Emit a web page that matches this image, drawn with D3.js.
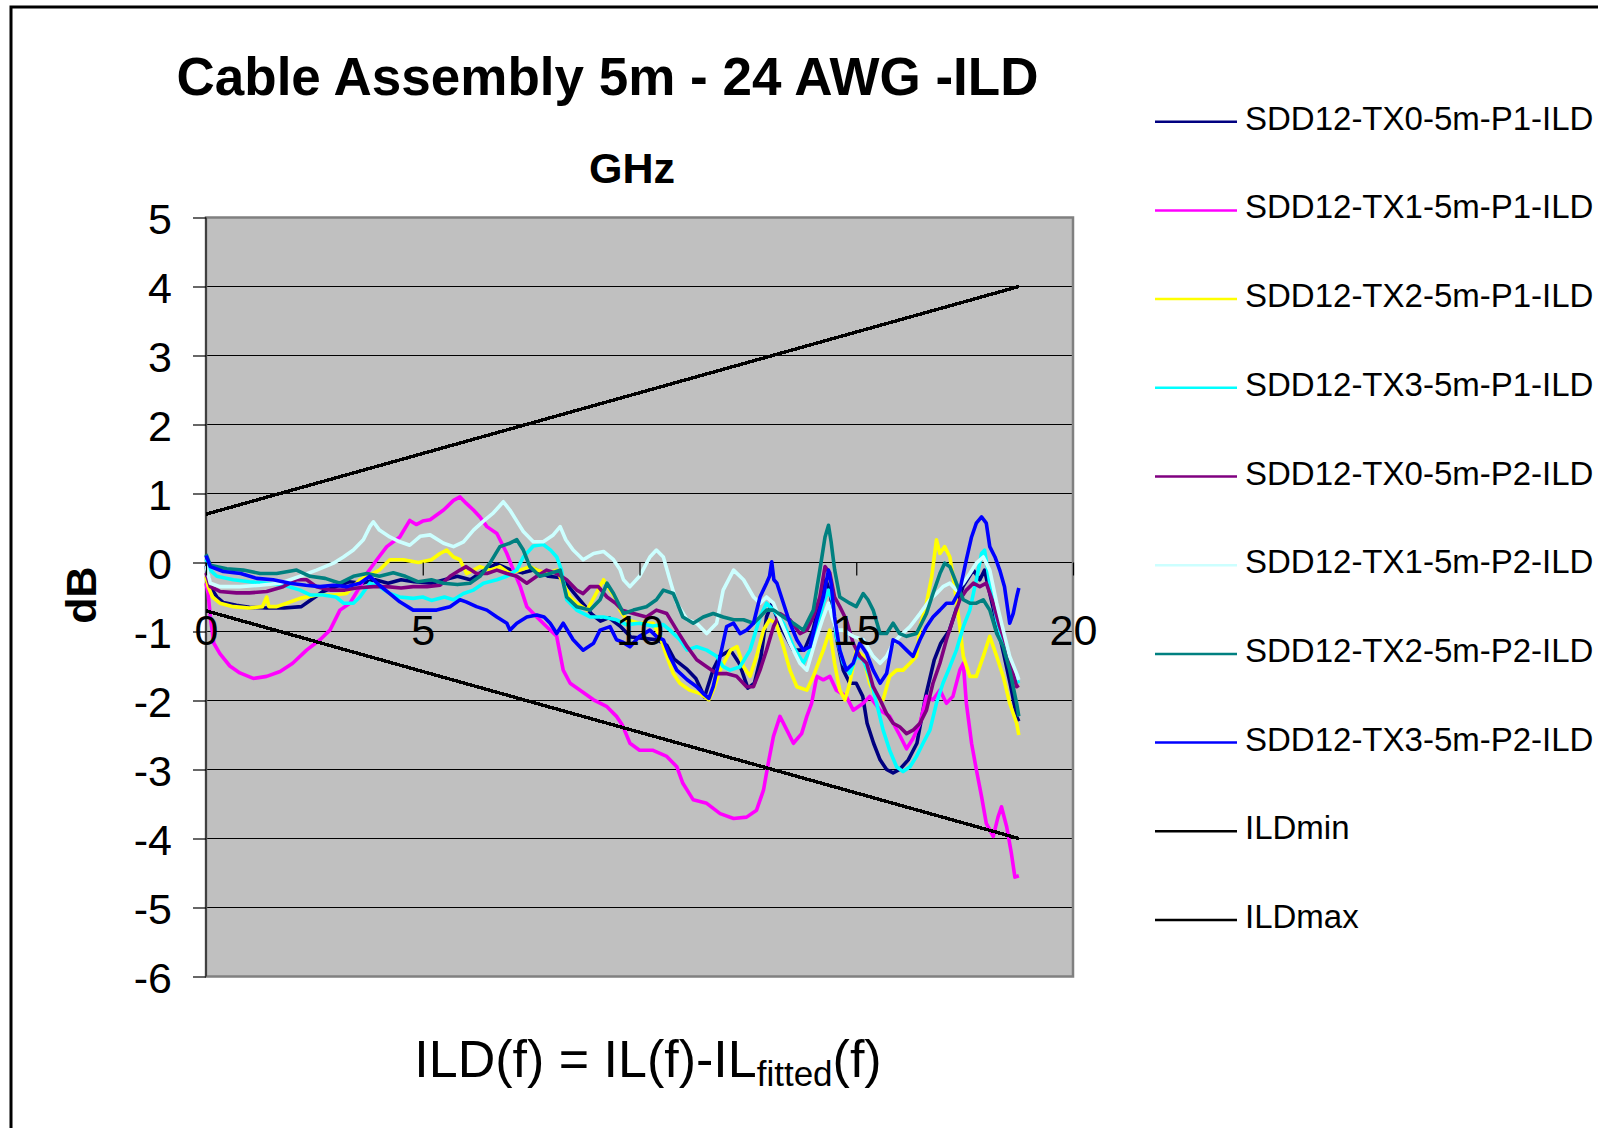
<!DOCTYPE html>
<html>
<head>
<meta charset="utf-8">
<script src="https://cdn.jsdelivr.net/npm/d3@7/dist/d3.min.js"></script>
<style>
  html, body { margin: 0; padding: 0; background: #fff; }
  svg { display: block; font-family: "Liberation Sans", Arial, sans-serif; }
</style>
</head>
<body>
<svg id="chart" width="1598" height="1128"></svg>
<script>
// ---- Data: insertion-loss deviation per lane, [GHz, dB] ----
const tx0p1 = [[0,-0.05],[0.1,-0.35],[0.25,-0.5],[0.4,-0.58],[0.7,-0.62],[1.0,-0.65],[1.4,-0.66],[1.8,-0.66],[2.2,-0.64],[2.4,-0.55],[2.7,-0.42],[3.0,-0.35],[3.3,-0.28],[3.6,-0.3],[3.9,-0.25],[4.2,-0.3],[4.5,-0.25],[4.8,-0.28],[5.2,-0.3],[5.5,-0.25],[5.8,-0.2],[6.1,-0.25],[6.4,-0.12],[6.7,-0.02],[7.0,-0.1],[7.3,-0.15],[7.6,-0.1],[7.9,-0.2],[8.2,-0.22],[8.5,-0.45],[8.7,-0.6],[8.9,-0.75],[9.1,-0.85],[9.3,-0.8],[9.55,-0.92],[9.8,-1.08],[10.1,-1.1],[10.4,-1.12],[10.63,-1.2],[10.8,-1.4],[11.1,-1.55],[11.3,-1.68],[11.5,-1.95],[11.7,-1.55],[11.85,-1.36],[12.1,-1.27],[12.3,-1.46],[12.5,-1.82],[12.65,-1.75],[12.8,-1.37],[12.93,-0.79],[13.05,-0.6],[13.17,-0.8],[13.3,-0.98],[13.55,-1.27],[13.8,-1.27],[14.0,-0.98],[14.15,-0.6],[14.3,-0.25],[14.4,-0.45],[14.55,-1.1],[14.7,-1.56],[14.85,-1.75],[15.0,-1.75],[15.15,-1.94],[15.25,-2.33],[15.4,-2.62],[15.55,-2.86],[15.7,-3.0],[15.85,-3.05],[16.0,-3.0],[16.2,-2.86],[16.4,-2.62],[16.6,-1.94],[16.8,-1.41],[16.95,-1.17],[17.15,-0.98],[17.3,-0.69],[17.46,-0.35],[17.7,-0.11],[17.85,-0.25],[17.96,-0.11],[18.1,-0.5],[18.24,-0.88],[18.4,-1.32],[18.55,-1.75],[18.7,-2.23],[18.75,-2.3]];

const tx1p1 = [[0,-0.3],[0.05,-0.45],[0.1,-0.79],[0.18,-1.17],[0.32,-1.32],[0.55,-1.5],[0.78,-1.6],[1.09,-1.68],[1.4,-1.65],[1.71,-1.58],[2.0,-1.46],[2.32,-1.27],[2.63,-1.12],[2.86,-0.98],[3.09,-0.69],[3.32,-0.59],[3.55,-0.35],[3.71,-0.16],[3.94,0.04],[4.17,0.23],[4.47,0.37],[4.7,0.61],[4.85,0.55],[5.0,0.6],[5.17,0.62],[5.48,0.76],[5.71,0.9],[5.86,0.95],[6.0,0.86],[6.17,0.76],[6.32,0.66],[6.48,0.52],[6.71,0.42],[6.94,0.13],[7.09,-0.11],[7.25,-0.35],[7.4,-0.64],[7.63,-0.79],[7.86,-0.93],[8.09,-1.07],[8.24,-1.56],[8.4,-1.75],[8.63,-1.85],[8.94,-1.99],[9.25,-2.09],[9.47,-2.23],[9.6,-2.35],[9.78,-2.62],[10.0,-2.72],[10.3,-2.72],[10.63,-2.81],[10.86,-2.96],[11.0,-3.2],[11.24,-3.44],[11.55,-3.49],[11.86,-3.64],[12.17,-3.71],[12.47,-3.69],[12.7,-3.59],[12.86,-3.3],[12.97,-2.91],[13.09,-2.52],[13.24,-2.23],[13.4,-2.43],[13.55,-2.62],[13.74,-2.48],[13.86,-2.23],[13.97,-2.04],[14.09,-1.65],[14.24,-1.7],[14.39,-1.65],[14.54,-1.85],[14.77,-1.94],[14.93,-2.14],[15.16,-2.04],[15.31,-1.94],[15.55,-2.14],[15.77,-2.23],[16.0,-2.5],[16.16,-2.7],[16.31,-2.55],[16.47,-2.33],[16.62,-1.94],[16.77,-1.99],[16.93,-1.85],[17.08,-2.04],[17.23,-1.94],[17.39,-1.56],[17.47,-1.46],[17.54,-2.04],[17.66,-2.62],[17.77,-3.0],[17.89,-3.39],[18.0,-3.78],[18.16,-3.97],[18.27,-3.69],[18.35,-3.54],[18.47,-3.83],[18.58,-4.22],[18.66,-4.56],[18.75,-4.54]];

const tx2p1 = [[0,-0.2],[0.05,-0.35],[0.15,-0.5],[0.32,-0.59],[0.63,-0.64],[1.0,-0.66],[1.3,-0.64],[1.4,-0.5],[1.45,-0.64],[1.63,-0.64],[1.86,-0.59],[2.17,-0.52],[2.55,-0.47],[2.94,-0.47],[3.24,-0.45],[3.55,-0.25],[3.71,-0.2],[4.0,-0.11],[4.24,0.04],[4.55,0.04],[4.9,0.0],[5.2,0.04],[5.4,0.13],[5.55,0.18],[5.71,0.08],[5.86,0.04],[6.01,-0.16],[6.17,-0.11],[6.32,-0.06],[6.55,-0.11],[6.78,-0.06],[7.01,-0.16],[7.25,-0.11],[7.47,-0.06],[7.65,-0.11],[7.86,-0.16],[8.09,-0.11],[8.24,-0.3],[8.4,-0.5],[8.55,-0.59],[8.79,-0.69],[9.0,-0.45],[9.17,-0.25],[9.32,-0.4],[9.47,-0.54],[9.55,-0.69],[9.7,-0.83],[10.0,-0.88],[10.32,-0.88],[10.47,-1.07],[10.63,-1.36],[10.78,-1.61],[10.93,-1.75],[11.16,-1.85],[11.4,-1.9],[11.6,-1.99],[11.7,-1.85],[11.86,-1.56],[12.1,-1.27],[12.25,-1.22],[12.4,-1.51],[12.55,-1.65],[12.7,-1.36],[12.86,-0.98],[13.0,-0.83],[13.15,-0.88],[13.32,-1.22],[13.47,-1.56],[13.63,-1.8],[13.86,-1.85],[14.01,-1.65],[14.24,-1.27],[14.39,-0.98],[14.5,-1.46],[14.62,-1.85],[14.74,-1.99],[14.85,-1.75],[15.0,-1.27],[15.16,-1.36],[15.31,-1.75],[15.47,-1.99],[15.62,-1.99],[15.77,-1.65],[15.93,-1.56],[16.08,-1.56],[16.24,-1.46],[16.39,-1.36],[16.47,-0.93],[16.62,-0.59],[16.74,-0.21],[16.85,0.33],[16.93,0.13],[17.04,0.23],[17.16,0.08],[17.27,-0.35],[17.39,-0.93],[17.47,-1.36],[17.62,-1.65],[17.77,-1.65],[17.93,-1.36],[18.08,-1.07],[18.24,-1.36],[18.39,-1.65],[18.54,-2.04],[18.7,-2.33],[18.75,-2.5]];

const tx3p1 = [[0,0.05],[0.1,-0.11],[0.25,-0.2],[0.63,-0.25],[1.0,-0.28],[1.4,-0.3],[1.8,-0.33],[2.17,-0.4],[2.4,-0.47],[2.7,-0.47],[3.0,-0.5],[3.17,-0.59],[3.4,-0.59],[3.55,-0.5],[3.78,-0.3],[4.0,-0.35],[4.24,-0.45],[4.47,-0.5],[4.78,-0.52],[5.0,-0.5],[5.2,-0.55],[5.5,-0.5],[5.71,-0.54],[5.94,-0.45],[6.17,-0.4],[6.4,-0.3],[6.71,-0.25],[6.94,-0.2],[7.17,-0.11],[7.32,0.08],[7.55,0.24],[7.78,0.26],[7.95,0.18],[8.09,0.08],[8.2,-0.11],[8.32,-0.54],[8.55,-0.69],[8.86,-0.79],[9.17,-0.79],[9.47,-0.83],[9.7,-0.9],[10.0,-0.88],[10.3,-0.92],[10.55,-0.9],[10.7,-0.98],[10.93,-1.12],[11.1,-1.27],[11.32,-1.22],[11.55,-1.27],[11.78,-1.36],[11.93,-1.51],[12.09,-1.56],[12.32,-1.51],[12.55,-1.27],[12.78,-0.79],[12.93,-0.59],[13.09,-0.69],[13.32,-0.88],[13.55,-1.22],[13.78,-1.46],[14.01,-1.17],[14.24,-0.59],[14.36,-0.4],[14.45,-0.55],[14.54,-1.07],[14.7,-1.46],[14.85,-1.61],[15.0,-1.36],[15.16,-1.41],[15.31,-1.65],[15.47,-2.04],[15.62,-2.43],[15.77,-2.72],[15.93,-2.96],[16.08,-3.03],[16.24,-2.96],[16.39,-2.81],[16.54,-2.62],[16.7,-2.43],[16.85,-2.04],[17.0,-1.75],[17.16,-1.51],[17.31,-1.27],[17.47,-0.93],[17.62,-0.69],[17.77,-0.25],[17.89,0.13],[17.96,0.18],[18.08,-0.3],[18.24,-0.83],[18.39,-1.17],[18.54,-1.46],[18.7,-1.7],[18.75,-1.75]];

const tx0p2 = [[0,-0.15],[0.1,-0.35],[0.32,-0.42],[0.7,-0.44],[1.0,-0.44],[1.4,-0.42],[1.78,-0.35],[2.09,-0.25],[2.32,-0.25],[2.55,-0.35],[2.86,-0.4],[3.2,-0.4],[3.47,-0.37],[3.86,-0.35],[4.17,-0.35],[4.5,-0.37],[4.78,-0.35],[5.1,-0.35],[5.4,-0.33],[5.63,-0.2],[5.86,-0.11],[6.0,-0.06],[6.24,-0.16],[6.48,-0.16],[6.71,-0.11],[6.94,-0.16],[7.17,-0.2],[7.4,-0.3],[7.63,-0.2],[7.86,-0.11],[8.09,-0.16],[8.32,-0.25],[8.55,-0.4],[8.7,-0.45],[8.86,-0.35],[9.05,-0.35],[9.25,-0.5],[9.45,-0.59],[9.6,-0.69],[9.86,-0.74],[10.16,-0.79],[10.39,-0.69],[10.63,-0.74],[10.86,-0.98],[11.1,-1.22],[11.32,-1.41],[11.55,-1.51],[11.78,-1.61],[12.0,-1.61],[12.24,-1.65],[12.47,-1.8],[12.63,-1.8],[12.78,-1.56],[12.93,-1.27],[13.09,-0.93],[13.24,-0.74],[13.47,-0.83],[13.7,-1.03],[13.86,-0.98],[14.01,-0.79],[14.16,-0.5],[14.28,-0.06],[14.39,-0.15],[14.5,-0.5],[14.62,-0.64],[14.77,-0.83],[14.93,-1.17],[15.08,-1.36],[15.24,-1.46],[15.39,-1.8],[15.55,-1.99],[15.7,-2.19],[15.85,-2.33],[16.0,-2.38],[16.16,-2.48],[16.31,-2.43],[16.47,-2.33],[16.62,-2.14],[16.77,-1.75],[16.93,-1.46],[17.08,-1.12],[17.23,-0.83],[17.39,-0.54],[17.54,-0.4],[17.7,-0.3],[17.85,-0.35],[18.0,-0.3],[18.16,-0.59],[18.31,-0.93],[18.47,-1.22],[18.58,-1.51],[18.7,-1.8],[18.75,-1.78]];

const tx1p2 = [[0,-0.05],[0.1,-0.3],[0.32,-0.35],[0.78,-0.35],[1.25,-0.33],[1.71,-0.3],[2.17,-0.2],[2.55,-0.11],[2.94,-0.01],[3.17,0.08],[3.4,0.18],[3.63,0.33],[3.78,0.52],[3.86,0.59],[4.0,0.47],[4.24,0.37],[4.47,0.3],[4.7,0.25],[4.94,0.38],[5.17,0.4],[5.48,0.28],[5.71,0.23],[5.94,0.3],[6.17,0.47],[6.4,0.6],[6.63,0.72],[6.86,0.88],[7.01,0.76],[7.17,0.6],[7.32,0.45],[7.55,0.3],[7.78,0.3],[8.01,0.4],[8.17,0.52],[8.3,0.33],[8.47,0.18],[8.7,0.04],[8.94,0.13],[9.17,0.16],[9.4,0.04],[9.55,-0.1],[9.63,-0.25],[9.78,-0.35],[10.0,-0.2],[10.24,0.08],[10.39,0.18],[10.55,0.08],[10.7,-0.25],[10.86,-0.59],[11.1,-0.83],[11.32,-0.88],[11.55,-1.03],[11.78,-0.88],[11.93,-0.4],[12.17,-0.11],[12.4,-0.25],[12.63,-0.5],[12.78,-0.59],[12.93,-0.5],[13.09,-0.59],[13.24,-0.83],[13.47,-1.17],[13.7,-1.46],[13.86,-1.56],[14.09,-1.07],[14.24,-0.79],[14.36,-0.59],[14.45,-0.8],[14.54,-0.98],[14.7,-0.98],[14.93,-1.07],[15.16,-1.12],[15.39,-1.36],[15.55,-1.46],[15.7,-1.36],[15.85,-1.17],[16.0,-1.07],[16.24,-0.93],[16.47,-0.74],[16.7,-0.54],[16.85,-0.45],[17.0,-0.35],[17.16,-0.3],[17.31,-0.4],[17.47,-0.3],[17.62,-0.16],[17.77,-0.01],[17.93,0.08],[18.08,-0.11],[18.24,-0.59],[18.39,-0.98],[18.54,-1.36],[18.7,-1.61],[18.75,-1.7]];

const tx2p2 = [[0,0.12],[0.1,-0.04],[0.48,-0.09],[0.86,-0.11],[1.25,-0.16],[1.63,-0.16],[2.09,-0.11],[2.4,-0.2],[2.75,-0.23],[3.09,-0.3],[3.4,-0.2],[3.71,-0.16],[4.0,-0.2],[4.32,-0.15],[4.6,-0.2],[4.9,-0.28],[5.2,-0.25],[5.48,-0.3],[5.8,-0.32],[6.09,-0.3],[6.32,-0.2],[6.55,-0.01],[6.78,0.23],[7.01,0.28],[7.17,0.33],[7.32,0.18],[7.47,-0.06],[7.7,-0.2],[7.94,-0.16],[8.17,-0.11],[8.32,-0.5],[8.55,-0.64],[8.86,-0.69],[9.09,-0.54],[9.25,-0.3],[9.4,-0.45],[9.63,-0.74],[9.86,-0.69],[10.16,-0.64],[10.39,-0.54],[10.55,-0.4],[10.78,-0.45],[11.0,-0.79],[11.24,-0.88],[11.47,-0.79],[11.7,-0.74],[11.93,-0.79],[12.17,-0.83],[12.4,-0.83],[12.63,-0.88],[12.78,-0.79],[12.93,-0.69],[13.1,-0.69],[13.32,-0.79],[13.55,-0.88],[13.78,-0.98],[14.01,-0.69],[14.16,-0.11],[14.28,0.37],[14.36,0.54],[14.42,0.3],[14.5,-0.1],[14.62,-0.5],[14.85,-0.59],[15.0,-0.64],[15.16,-0.45],[15.27,-0.54],[15.39,-0.69],[15.55,-1.03],[15.7,-1.03],[15.85,-0.88],[16.0,-1.03],[16.16,-1.07],[16.39,-1.03],[16.62,-0.74],[16.77,-0.45],[16.93,-0.16],[17.04,-0.01],[17.16,-0.06],[17.31,-0.3],[17.47,-0.54],[17.62,-0.59],[17.77,-0.59],[17.93,-0.54],[18.08,-0.69],[18.24,-1.03],[18.39,-1.22],[18.54,-1.56],[18.7,-2.04],[18.75,-2.23]];

const tx3p2 = [[0,0.1],[0.1,-0.06],[0.4,-0.13],[0.8,-0.16],[1.17,-0.23],[1.55,-0.25],[1.94,-0.3],[2.3,-0.33],[2.63,-0.35],[2.94,-0.33],[3.24,-0.35],[3.55,-0.3],[3.78,-0.2],[4.0,-0.33],[4.24,-0.45],[4.47,-0.57],[4.78,-0.69],[5.0,-0.69],[5.32,-0.69],[5.63,-0.64],[5.86,-0.54],[6.0,-0.57],[6.24,-0.64],[6.48,-0.69],[6.71,-0.79],[6.94,-0.88],[7.01,-0.98],[7.17,-0.88],[7.4,-0.79],[7.63,-0.76],[7.8,-0.79],[7.94,-0.88],[8.09,-1.03],[8.24,-0.88],[8.47,-1.12],[8.7,-1.27],[8.94,-1.17],[9.09,-0.98],[9.32,-0.93],[9.47,-1.12],[9.6,-1.15],[9.78,-1.22],[10.0,-1.07],[10.24,-0.98],[10.39,-1.07],[10.55,-1.12],[10.7,-1.36],[10.86,-1.56],[11.1,-1.7],[11.32,-1.8],[11.47,-1.9],[11.6,-1.97],[11.7,-1.8],[11.86,-1.36],[12.01,-0.93],[12.17,-0.88],[12.32,-1.03],[12.47,-0.98],[12.63,-0.88],[12.78,-0.5],[12.93,-0.3],[13.0,-0.2],[13.05,0.01],[13.1,-0.25],[13.17,-0.3],[13.32,-0.59],[13.47,-0.88],[13.63,-1.12],[13.78,-1.27],[13.93,-1.22],[14.09,-0.83],[14.24,-0.5],[14.36,-0.11],[14.42,-0.3],[14.5,-0.79],[14.62,-1.27],[14.77,-1.56],[14.93,-1.46],[15.08,-1.17],[15.24,-1.32],[15.39,-1.56],[15.55,-1.75],[15.7,-1.61],[15.85,-1.12],[16.0,-1.17],[16.16,-1.27],[16.31,-1.36],[16.47,-1.12],[16.62,-0.93],[16.77,-0.79],[16.93,-0.69],[17.08,-0.59],[17.23,-0.59],[17.39,-0.4],[17.54,0.04],[17.66,0.37],[17.77,0.57],[17.89,0.66],[18.0,0.57],[18.08,0.23],[18.2,0.08],[18.31,-0.11],[18.42,-0.35],[18.54,-0.88],[18.62,-0.74],[18.7,-0.5],[18.75,-0.37]];

// Limit lines (end points, GHz and dB)
const ildFreq = [0, 18.75];
const ildMinVals = [-0.7, -4.0];
const ildMaxVals = [0.7, 4.0];

const seriesNames = [
  "SDD12-TX0-5m-P1-ILD", "SDD12-TX1-5m-P1-ILD", "SDD12-TX2-5m-P1-ILD", "SDD12-TX3-5m-P1-ILD",
  "SDD12-TX0-5m-P2-ILD", "SDD12-TX1-5m-P2-ILD", "SDD12-TX2-5m-P2-ILD", "SDD12-TX3-5m-P2-ILD",
  "ILDmin", "ILDmax"
];
const seriesData = [tx0p1, tx1p1, tx2p1, tx3p1, tx0p2, tx1p2, tx2p2, tx3p2,
  ildFreq.map((f, i) => [f, ildMinVals[i]]),
  ildFreq.map((f, i) => [f, ildMaxVals[i]])];
const seriesColors = ["#000080", "#ff00ff", "#ffff00", "#00ffff", "#800080",
  "#ccffff", "#008080", "#0000ff", "#000000", "#000000"];

const xTicks = [0, 5, 10, 15, 20];
const yTicks = [5, 4, 3, 2, 1, 0, -1, -2, -3, -4, -5, -6];

// ---- Layout ----
const W = 1598, H = 1128;
const plot = { left: 206, right: 1073, top: 217.5, bottom: 976.5 };
const FONT = '"Liberation Sans", Arial, sans-serif';

const svg = d3.select("#chart");
const x = d3.scaleLinear().domain([0, 20]).range([plot.left, plot.right]);
const y = d3.scaleLinear().domain([-6, 5]).range([plot.bottom, plot.top]);

svg.append("rect").attr("width", W).attr("height", H).attr("fill", "#fff");

// outer chart frame
svg.append("rect")
  .attr("x", 11).attr("y", 7).attr("width", W).attr("height", H)
  .attr("fill", "none").attr("stroke", "#000").attr("stroke-width", 3);

// plot area
svg.append("rect")
  .attr("x", plot.left).attr("y", plot.top)
  .attr("width", plot.right - plot.left).attr("height", plot.bottom - plot.top)
  .attr("fill", "#c0c0c0");

// horizontal gridlines
svg.append("g").selectAll("line")
  .data(yTicks.filter(v => v > -6 && v < 5))
  .join("line")
  .attr("x1", plot.left).attr("x2", plot.right)
  .attr("y1", d => y(d)).attr("y2", d => y(d))
  .attr("stroke", "#000").attr("stroke-width", 1.2)
  .attr("shape-rendering", "crispEdges");

// plot border
svg.append("rect")
  .attr("x", plot.left).attr("y", plot.top)
  .attr("width", plot.right - plot.left).attr("height", plot.bottom - plot.top)
  .attr("fill", "none").attr("stroke", "#808080").attr("stroke-width", 2.5);

// vertical axis line
svg.append("line")
  .attr("x1", plot.left).attr("x2", plot.left)
  .attr("y1", plot.top).attr("y2", plot.bottom)
  .attr("stroke", "#404040").attr("stroke-width", 2);

// ---- Series ----
const line = d3.line().x(d => x(d[0])).y(d => y(d[1]));
const gSeries = svg.append("g");
seriesData.forEach((data, i) => {
  const isLimit = i >= 8;
  gSeries.append("path")
    .datum(data)
    .attr("d", line)
    .attr("fill", "none")
    .attr("stroke", seriesColors[i])
    .attr("stroke-width", isLimit ? 3.4 : 3.6)
    .attr("stroke-linejoin", "round")
    .attr("shape-rendering", isLimit ? "crispEdges" : "auto");
});

// ---- Axes ----
const gy = svg.append("g")
  .attr("transform", `translate(${plot.left},0)`)
  .call(d3.axisLeft(y).tickValues(yTicks).tickSize(13).tickFormat(d => String(d)));
gy.select(".domain").remove();
gy.attr("font-family", FONT).attr("font-size", 43);
gy.selectAll(".tick line").attr("stroke", "#000").attr("stroke-width", 1.2);
gy.selectAll("text").attr("x", -34).attr("dy", "0.38em").attr("fill", "#000");

const gx = svg.append("g")
  .attr("transform", `translate(0,${y(0)})`)
  .call(d3.axisBottom(x).tickValues(xTicks).tickSize(13).tickFormat(d => String(d)));
gx.select(".domain").remove();
gx.attr("font-family", FONT).attr("font-size", 43);
gx.selectAll(".tick line").attr("stroke", "#000").attr("stroke-width", 1.2);
gx.selectAll("text").attr("y", 82.5).attr("dy", 0).attr("fill", "#000");

// ---- Titles ----
svg.append("text")
  .attr("x", 607.5).attr("y", 95)
  .attr("text-anchor", "middle")
  .attr("font-size", 53).attr("font-weight", "bold")
  .text("Cable Assembly 5m - 24 AWG -ILD");

svg.append("text")
  .attr("x", 632).attr("y", 183)
  .attr("text-anchor", "middle")
  .attr("font-size", 43).attr("font-weight", "bold")
  .text("GHz");

svg.append("text")
  .attr("transform", "translate(96,595) rotate(-90)")
  .attr("text-anchor", "middle")
  .attr("font-size", 43).attr("font-weight", "bold")
  .text("dB");

const formula = svg.append("text")
  .attr("x", 648).attr("y", 1077)
  .attr("text-anchor", "middle")
  .attr("font-size", 52);
formula.append("tspan").text("ILD(f) = IL(f)-IL");
formula.append("tspan").attr("font-size", 35).attr("dy", 9).text("fitted");
formula.append("tspan").attr("dy", -9).text("(f)");

// ---- Legend ----
const legend = svg.append("g");
const legY0 = 121.7, legStep = 88.7;
seriesNames.forEach((name, i) => {
  const ly = legY0 + i * legStep;
  legend.append("line")
    .attr("x1", 1155).attr("x2", 1237)
    .attr("y1", ly).attr("y2", ly)
    .attr("stroke", seriesColors[i]).attr("stroke-width", 2.5);
  legend.append("text")
    .attr("x", 1245).attr("y", ly + 8)
    .attr("font-size", 33)
    .text(name);
});
</script>
</body>
</html>
